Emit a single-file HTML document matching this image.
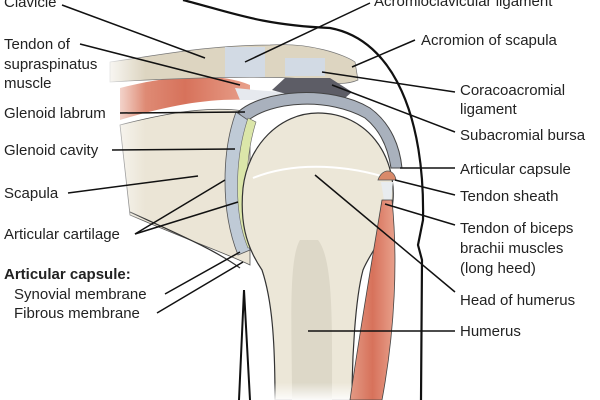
<!DOCTYPE html>
<html><head><meta charset="utf-8"><style>
html,body{margin:0;padding:0;background:#fff;}
svg{display:block;}
text{font-family:"Liberation Sans",sans-serif;font-size:15px;fill:#222;}
</style></head><body>
<svg width="600" height="400" viewBox="0 0 600 400" xmlns="http://www.w3.org/2000/svg">
<defs>
<linearGradient id="fadeL" x1="0" x2="1"><stop offset="0" stop-color="#fff" stop-opacity="1"/><stop offset="0.35" stop-color="#fff" stop-opacity="0"/></linearGradient>
<linearGradient id="fadeB" x1="0" y1="0" x2="0" y2="1"><stop offset="0.75" stop-color="#fff" stop-opacity="0"/><stop offset="1" stop-color="#fff" stop-opacity="0.9"/></linearGradient>
<linearGradient id="mus" x1="0" x2="1"><stop offset="0" stop-color="#e39a85"/><stop offset="0.5" stop-color="#d7725b"/><stop offset="1" stop-color="#e8a08b"/></linearGradient>
</defs>
<!-- supraspinatus muscle -->
<path d="M120,88 C170,75 220,72 250,85 L250,100 C210,98 170,105 120,120 Z" fill="url(#mus)"/>
<path d="M235,88 C255,90 270,92 300,92 L300,100 C270,100 255,100 240,100 Z" fill="#e6e9ee"/>
<!-- scapula -->
<path d="M120,125 C170,112 215,105 250,112 L250,265 C230,255 200,245 130,215 Z" fill="#ebe5d6" stroke="#555" stroke-width="0.8"/>
<path d="M130,212 C180,235 215,250 240,268" fill="none" stroke="#333" stroke-width="1.2"/>
<!-- clavicle -->
<path d="M110,62 C160,55 210,45 270,45 C310,42 345,55 355,62 L358,80 C340,88 320,80 290,78 C240,76 180,78 110,82 Z" fill="#ddd5c1" stroke="#777" stroke-width="0.7"/>
<rect x="225" y="47" width="40" height="30" fill="#d2dae4"/>
<rect x="285" y="58" width="40" height="18" fill="#d2dae4"/>
<!-- acromion dark ligament -->
<path d="M272,90 L285,78 L330,78 L352,92 L345,98 L290,95 Z" fill="#5d5d66"/>
<!-- capsule gray arc -->
<path d="M238,112 C262,90 330,84 370,108 C392,124 400,148 402,168 L391,168 C388,148 380,130 365,118 C330,98 272,100 246,122 Z" fill="#a9b1bd" stroke="#444" stroke-width="1"/>
<!-- glenoid gray -->
<path d="M236,112 C222,150 220,210 238,255 L250,250 C238,210 238,150 248,120 Z" fill="#bfcad6" stroke="#555" stroke-width="0.8"/>
<!-- cartilage green -->
<path d="M248,118 C234,160 234,215 248,248 L256,246 C244,210 244,160 256,122 Z" fill="#dbe6a9" stroke="#666" stroke-width="0.6"/>
<!-- humerus -->
<path d="M318,113 C367,113 396,155 393,200 C391,232 372,248 363,270 C355,300 352,360 352,400 L275,400 C275,340 272,300 262,270 C245,245 240,220 243,188 C248,145 280,113 318,113 Z" fill="#ece7d8" stroke="#333" stroke-width="1.2"/>
<path d="M300,240 C288,260 292,330 292,400 L332,400 C332,330 334,260 318,240 Z" fill="#ddd8c8"/>
<path d="M253,178 C290,163 340,163 388,178" fill="none" stroke="#fff" stroke-width="2"/>
<rect x="240" y="330" width="160" height="70" fill="url(#fadeB)"/>
<!-- tendon sheath -->
<path d="M378,180 C382,168 394,168 396,180 Z" fill="#d98a6a" stroke="#555" stroke-width="0.8"/>
<path d="M381,182 L393,182 L391,200 L384,200 Z" fill="#e8ecef"/>
<!-- biceps muscle -->
<path d="M382,200 L392,200 C398,260 395,330 382,400 L350,400 C360,330 372,260 382,200 Z" fill="url(#mus)" stroke="#444" stroke-width="0.8"/>
<rect x="100" y="50" width="130" height="230" fill="url(#fadeL)"/>
<!-- body outline -->
<path d="M183,0 C230,12 260,25 330,28 C395,40 425,120 423,220 L418,245 L422,260 L421,400" fill="none" stroke="#111" stroke-width="2.2"/>
<path d="M239,400 L244,290 L250,400" fill="none" stroke="#111" stroke-width="2"/>
<!-- leader lines -->
<g stroke="#111" stroke-width="1.5" fill="none">
<line x1="62" y1="5" x2="205" y2="58"/>
<line x1="80" y1="44" x2="240" y2="85"/>
<line x1="120" y1="113" x2="245" y2="112"/>
<line x1="112" y1="150" x2="235" y2="149"/>
<line x1="68" y1="193" x2="198" y2="176"/>
<line x1="135" y1="234" x2="225" y2="180"/>
<line x1="135" y1="234" x2="238" y2="202"/>
<line x1="165" y1="294" x2="240" y2="252"/>
<line x1="157" y1="313" x2="243" y2="262"/>
<line x1="370" y1="3" x2="245" y2="62"/>
<line x1="415" y1="40" x2="352" y2="67"/>
<line x1="455" y1="92" x2="322" y2="72"/>
<line x1="455" y1="132" x2="332" y2="85"/>
<line x1="455" y1="168" x2="400" y2="168"/>
<line x1="455" y1="195" x2="395" y2="180"/>
<line x1="455" y1="225" x2="385" y2="204"/>
<line x1="455" y1="292" x2="315" y2="175"/>
<line x1="455" y1="331" x2="308" y2="331"/>
</g>
<!-- labels -->
<text x="4" y="7">Clavicle</text>
<text x="4" y="49">Tendon of</text>
<text x="4" y="69">supraspinatus</text>
<text x="4" y="88">muscle</text>
<text x="4" y="118">Glenoid labrum</text>
<text x="4" y="155">Glenoid cavity</text>
<text x="4" y="198">Scapula</text>
<text x="4" y="239">Articular cartilage</text>
<text x="4" y="279" style="font-weight:bold">Articular capsule:</text>
<text x="14" y="299">Synovial membrane</text>
<text x="14" y="318">Fibrous membrane</text>
<text x="374" y="6">Acromioclavicular ligament</text>
<text x="421" y="45">Acromion of scapula</text>
<text x="460" y="95">Coracoacromial</text>
<text x="460" y="114">ligament</text>
<text x="460" y="140">Subacromial bursa</text>
<text x="460" y="174">Articular capsule</text>
<text x="460" y="201">Tendon sheath</text>
<text x="460" y="233">Tendon of biceps</text>
<text x="460" y="253">brachii muscles</text>
<text x="460" y="273">(long heed)</text>
<text x="460" y="305">Head of humerus</text>
<text x="460" y="336">Humerus</text>
</svg>
</body></html>
